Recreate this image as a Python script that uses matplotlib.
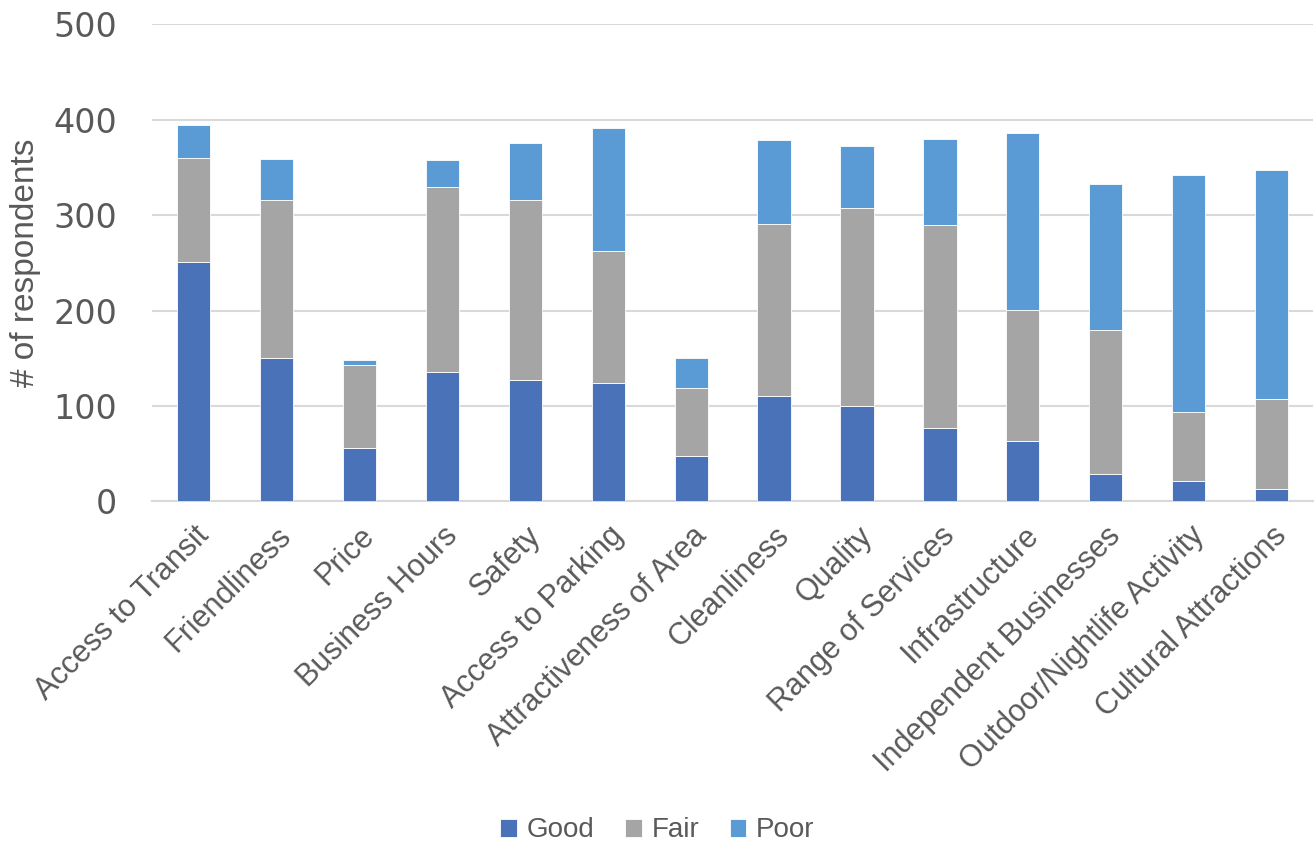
import matplotlib
matplotlib.use("Agg")
import matplotlib.pyplot as plt
import numpy as np

categories = [
    "Access to Transit", "Friendliness", "Price", "Business Hours", "Safety",
    "Access to Parking", "Attractiveness of Area", "Cleanliness", "Quality",
    "Range of Services", "Infrastructure", "Independent Businesses",
    "Outdoor/Nightlife Activity", "Cultural Attractions",
]
good = [251, 150, 56, 136, 127, 124, 48, 110, 100, 77, 63, 29, 21, 13]
fair = [109, 166, 87, 193, 189, 138, 71, 181, 207, 213, 138, 151, 73, 94]
poor = [34, 43, 5, 29, 60, 129, 31, 88, 65, 90, 185, 153, 248, 240]
y_ticks = [0, 100, 200, 300, 400, 500]

series_names = ["Good", "Fair", "Poor"]
colors = ["#4a72b8", "#a5a5a5", "#5b9bd5"]
text_color = "#595959"
grid_color = "#d9d9d9"

plt.rcParams["font.family"] = ["Liberation Sans", "DejaVu Sans"]

fig = plt.figure(figsize=(13.15, 8.44), dpi=100)
ax = fig.add_axes([0.1156, 0.406, 0.883, 0.5652])

x = np.arange(len(categories))
bottom = np.zeros(len(categories))
for name, vals, col in zip(series_names, [good, fair, poor], colors):
    ax.bar(x, vals, width=0.4, bottom=bottom, color=col, label=name,
           edgecolor="white", linewidth=0.6, zorder=3)
    bottom += np.array(vals)

ax.set_xlim(-0.5, len(categories) - 0.5)
ax.set_ylim(0, 500)
ax.set_yticks(y_ticks)
ax.set_yticklabels([str(v) for v in y_ticks], family="DejaVu Sans")
ax.yaxis.grid(True, color=grid_color, linewidth=1.5, zorder=0)
ax.set_axisbelow(True)

for side in ["top", "right", "left"]:
    ax.spines[side].set_visible(False)
ax.spines["bottom"].set_color(grid_color)
ax.spines["bottom"].set_linewidth(1.5)

ax.tick_params(axis="both", length=0, colors=text_color)
ax.tick_params(axis="y", labelsize=24, pad=25)
ax.set_xticks(x)
ax.set_xticklabels(categories, rotation=45, ha="right", rotation_mode="anchor",
                   fontsize=22, color=text_color)
ax.tick_params(axis="x", pad=14)

ax.set_ylabel("# of respondents", fontsize=24, color=text_color, labelpad=9)

leg = fig.legend(loc="center", bbox_to_anchor=(0.5, 0.016), ncol=3, frameon=False,
                 fontsize=20, handlelength=0.6, handleheight=0.6,
                 handletextpad=0.35, columnspacing=1.1)
for t in leg.get_texts():
    t.set_color(text_color)

fig.savefig("out.png", dpi=100, facecolor="white")
